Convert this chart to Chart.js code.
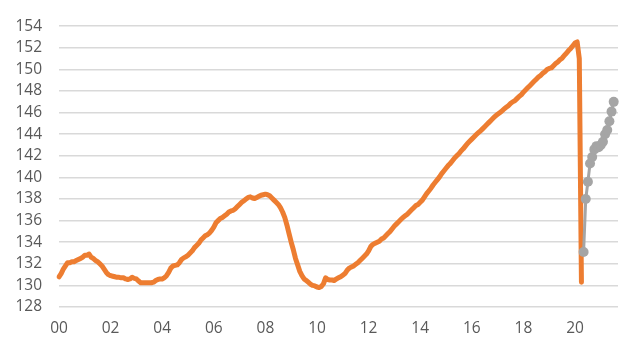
<!DOCTYPE html>
<html>
<head>
<meta charset="utf-8">
<script src="https://cdn.jsdelivr.net/npm/chart.js@4/dist/chart.umd.min.js"></script>
<style>
  html, body { margin: 0; padding: 0; background: #ffffff; }
  #wrap { width: 634px; height: 348px; position: relative; }
</style>
</head>
<body>
<div id="wrap"><canvas id="c"></canvas></div>
<script>
// Months from Jan 2000 to Sep 2021 (category axis)
const startYear = 2000;
const monthCount = 261;
// x tick labels, one every 24 months (January of even years)
const tickLabels = ['00','02','04','06','08','10','12','14','16','18','20'];

// Orange series: monthly, Jan 2000 - Apr 2020
const orangeValues = [
  // 2000
  130.8, 131.1, 131.5, 131.8, 132.1, 132.1, 132.2, 132.2, 132.3, 132.4, 132.5, 132.6,
  // 2001
  132.8, 132.8, 132.9, 132.6, 132.5, 132.3, 132.2, 132.0, 131.8, 131.5, 131.2, 131.0,
  // 2002
  130.9, 130.85, 130.8, 130.75, 130.75, 130.7, 130.7, 130.6, 130.55, 130.6, 130.75, 130.65,
  // 2003
  130.6, 130.4, 130.25, 130.25, 130.25, 130.25, 130.25, 130.25, 130.3, 130.45, 130.55, 130.6,
  // 2004
  130.6, 130.7, 130.9, 131.2, 131.6, 131.8, 131.85, 131.9, 132.1, 132.4, 132.55, 132.65,
  // 2005
  132.8, 133.0, 133.2, 133.5, 133.7, 133.9, 134.2, 134.4, 134.6, 134.7, 134.85, 135.1,
  // 2006
  135.4, 135.8, 136.0, 136.2, 136.3, 136.45, 136.6, 136.8, 136.9, 136.95, 137.1, 137.3,
  // 2007
  137.5, 137.7, 137.85, 138.0, 138.15, 138.2, 138.1, 138.05, 138.15, 138.25, 138.35, 138.4,
  // 2008
  138.45, 138.4, 138.3, 138.1, 137.9, 137.7, 137.5, 137.2, 136.8, 136.3, 135.6, 134.8,
  // 2009
  134.0, 133.3, 132.5, 131.9, 131.3, 130.9, 130.6, 130.45, 130.3, 130.1, 130.0, 129.95,
  // 2010
  129.85, 129.8, 129.9, 130.15, 130.7, 130.55, 130.5, 130.5, 130.45, 130.6, 130.7, 130.8,
  // 2011
  130.95, 131.1, 131.4, 131.6, 131.7, 131.8, 131.95, 132.1, 132.3, 132.5, 132.7, 132.9,
  // 2012
  133.2, 133.6, 133.8, 133.9, 134.0, 134.1, 134.3, 134.4, 134.6, 134.8, 135.0, 135.25,
  // 2013
  135.5, 135.7, 135.9, 136.1, 136.3, 136.45, 136.6, 136.8, 137.0, 137.2, 137.4, 137.5,
  // 2014
  137.7, 137.9, 138.2, 138.5, 138.75, 139.0, 139.3, 139.55, 139.8, 140.05, 140.35, 140.6,
  // 2015
  140.85, 141.1, 141.3, 141.55, 141.8, 142.0, 142.2, 142.45, 142.65, 142.9, 143.15, 143.35,
  // 2016
  143.55, 143.75, 143.95, 144.15, 144.3, 144.5, 144.7, 144.9, 145.1, 145.3, 145.5, 145.7,
  // 2017
  145.85, 146.0, 146.15, 146.35, 146.5, 146.65, 146.85, 147.0, 147.1, 147.3, 147.5, 147.65,
  // 2018
  147.9, 148.1, 148.3, 148.5, 148.7, 148.9, 149.1, 149.3, 149.45, 149.65, 149.8, 150.0,
  // 2019
  150.1, 150.15, 150.35, 150.55, 150.7, 150.9, 151.05, 151.3, 151.5, 151.75, 151.95, 152.2,
  // 2020 Jan - Apr
  152.45, 152.55, 151.0, 130.3
];

// Gray series: monthly, May 2020 - Jul 2021
const grayStartIndex = 244;
const grayValues = [
  133.1, 138.0, 139.6, 141.3, 141.9, 142.6, 142.9, 142.8,
  143.0, 143.3, 144.0, 144.4, 145.2, 146.1, 147.0
];

const yMin = 128, yMax = 154, yStep = 2;

// Build category labels and padded datasets
const labels = [];
for (let i = 0; i < monthCount; i++) {
  const y = startYear + Math.floor(i / 12);
  const m = (i % 12) + 1;
  labels.push(y + '-' + String(m).padStart(2, '0'));
}
const orangeData = orangeValues.concat(new Array(monthCount - orangeValues.length).fill(null));
const grayData = new Array(grayStartIndex).fill(null).concat(grayValues);
while (grayData.length < monthCount) grayData.push(null);

new Chart(document.getElementById('c'), {
  type: 'line',
  data: {
    labels: labels,
    datasets: [
      {
        label: 'gray',
        data: grayData,
        borderColor: '#A5A5A5',
        backgroundColor: '#A5A5A5',
        borderWidth: 3,
        pointRadius: 5,
        pointBorderWidth: 0,
        pointBackgroundColor: '#A5A5A5',
        tension: 0,
        spanGaps: false
      },
      {
        label: 'orange',
        data: orangeData,
        borderColor: '#ED7D31',
        borderWidth: 5,
        pointRadius: 0,
        tension: 0,
        borderCapStyle: 'round',
        borderJoinStyle: 'round',
        spanGaps: false
      }
    ]
  },
  options: {
    responsive: true,
    maintainAspectRatio: false,
    animation: false,
    devicePixelRatio: 1,
    layout: { padding: { top: 21, right: 16, bottom: 0, left: 0 } },
    plugins: {
      legend: { display: false },
      tooltip: { enabled: false }
    },
    scales: {
      x: {
        type: 'category',
        offset: false,
        grid: { display: false, drawTicks: false },
        border: { display: false },
        ticks: {
          autoSkip: false,
          maxRotation: 0,
          minRotation: 0,
          padding: 12,
          color: '#595959',
          font: { family: '"Open Sans", sans-serif', size: 15.5 },
          callback: function (val, idx) {
            return (idx % 24 === 0 && tickLabels[idx / 24] !== undefined) ? tickLabels[idx / 24] : '';
          }
        },
        afterFit: function (scale) { scale.height = 41; }
      },
      y: {
        min: yMin,
        max: yMax,
        grid: { color: '#D9D9D9', lineWidth: 1.6, drawTicks: false },
        border: { display: false },
        ticks: {
          stepSize: yStep,
          autoSkip: false,
          padding: 17,
          color: '#595959',
          font: { family: '"Open Sans", sans-serif', size: 15.5 }
        },
        afterFit: function (scale) { scale.width = 59; }
      }
    }
  }
});
</script>
</body>
</html>
